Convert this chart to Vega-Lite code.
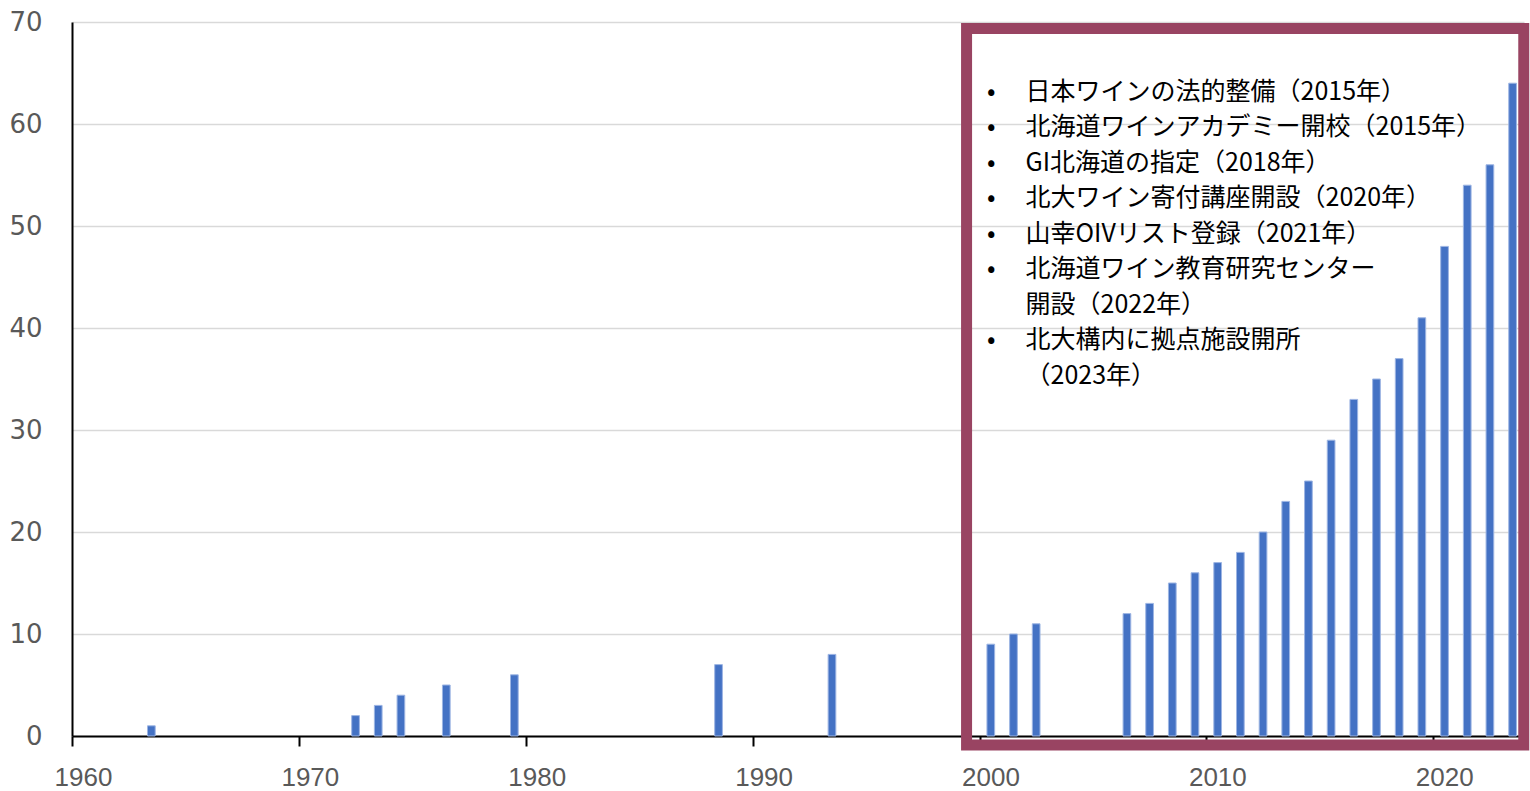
{
  "$schema": "https://vega.github.io/schema/vega-lite/v6.json",
  "width": 1452,
  "height": 714,
  "autosize": {"type": "none"},
  "padding": {"left": 72, "top": 22, "right": 6, "bottom": 55},
  "background": "white",
  "config": {"view": {"stroke": null}},
  "layer": [
    {
      "data": {"values": [
        {"year": 1963, "count": 1}, {"year": 1972, "count": 2}, {"year": 1973, "count": 3},
        {"year": 1974, "count": 4}, {"year": 1976, "count": 5}, {"year": 1979, "count": 6},
        {"year": 1988, "count": 7}, {"year": 1993, "count": 8}, {"year": 2000, "count": 9},
        {"year": 2001, "count": 10}, {"year": 2002, "count": 11}, {"year": 2006, "count": 12},
        {"year": 2007, "count": 13}, {"year": 2008, "count": 15}, {"year": 2009, "count": 16},
        {"year": 2010, "count": 17}, {"year": 2011, "count": 18}, {"year": 2012, "count": 20},
        {"year": 2013, "count": 23}, {"year": 2014, "count": 25}, {"year": 2015, "count": 29},
        {"year": 2016, "count": 33}, {"year": 2017, "count": 35}, {"year": 2018, "count": 37},
        {"year": 2019, "count": 41}, {"year": 2020, "count": 48}, {"year": 2021, "count": 54},
        {"year": 2022, "count": 56}, {"year": 2023, "count": 64}
      ]},
      "mark": {"type": "bar", "width": 7.7, "xOffset": 11.3, "color": "#4472C4", "stroke": "#9db5e3", "strokeWidth": 1},
      "encoding": {
        "x": {
          "field": "year", "type": "quantitative",
          "scale": {"domain": [1960, 2024], "nice": false, "zero": false, "padding": 0},
          "axis": {
            "title": null, "values": [1960, 1970, 1980, 1990, 2000, 2010, 2020], "format": "d",
            "grid": false, "domainColor": "#000000", "domainWidth": 2, "tickColor": "#000000",
            "tickWidth": 2, "tickSize": 10, "labelPadding": 18, "labelOffset": 11, "labelFlush": false,
            "labelFont": "Liberation Sans", "labelFontSize": 26, "labelColor": "#595959"
          }
        },
        "y": {
          "field": "count", "type": "quantitative",
          "scale": {"domain": [0, 70], "nice": false, "padding": 0},
          "axis": {
            "title": null, "values": [0, 10, 20, 30, 40, 50, 60, 70], "ticks": false,
            "domainColor": "#000000", "domainWidth": 2, "gridColor": "#d9d9d9", "gridWidth": 1.5,
            "labelPadding": 30, "labelFont": "DejaVu Sans", "labelFontSize": 26, "labelColor": "#595959"
          }
        }
      }
    },
    {
      "data": {"values": [{}]},
      "mark": {"type": "rect", "filled": false, "stroke": "#994462", "strokeWidth": 11, "clip": false},
      "encoding": {
        "x": {"datum": 1999.43, "type": "quantitative"},
        "x2": {"datum": 2023.99},
        "y": {"datum": 69.36, "type": "quantitative"},
        "y2": {"datum": -0.88}
      }
    },
    {
      "data": {"values": [{}]},
      "mark": {
        "type": "text", "align": "center", "baseline": "top", "font": "Noto Sans CJK JP",
        "fontSize": 25, "lineHeight": 35.5, "color": "#000000",
        "text": ["•", "•", "•", "•", "•", "•"]
      },
      "encoding": {
        "x": {"datum": 2000.52, "type": "quantitative"},
        "y": {"datum": 64.36, "type": "quantitative"}
      }
    },
    {
      "data": {"values": [{}]},
      "mark": {
        "type": "text", "align": "center", "baseline": "top", "font": "Noto Sans CJK JP",
        "fontSize": 25, "color": "#000000", "text": "•"
      },
      "encoding": {
        "x": {"datum": 2000.52, "type": "quantitative"},
        "y": {"datum": 40.0, "type": "quantitative"}
      }
    },
    {
      "data": {"values": [{}]},
      "mark": {
        "type": "text", "align": "left", "baseline": "top", "font": "Noto Sans CJK JP",
        "fontSize": 25, "lineHeight": 35.5, "color": "#000000",
        "text": [
          "日本ワインの法的整備（2015年）",
          "北海道ワインアカデミー開校（2015年）",
          "GI北海道の指定（2018年）",
          "北大ワイン寄付講座開設（2020年）",
          "山幸OIVリスト登録（2021年）",
          "北海道ワイン教育研究センター",
          "開設（2022年）",
          "北大構内に拠点施設開所",
          "（2023年）"
        ]
      },
      "encoding": {
        "x": {"datum": 2002.03, "type": "quantitative"},
        "y": {"datum": 64.36, "type": "quantitative"}
      }
    }
  ]
}
